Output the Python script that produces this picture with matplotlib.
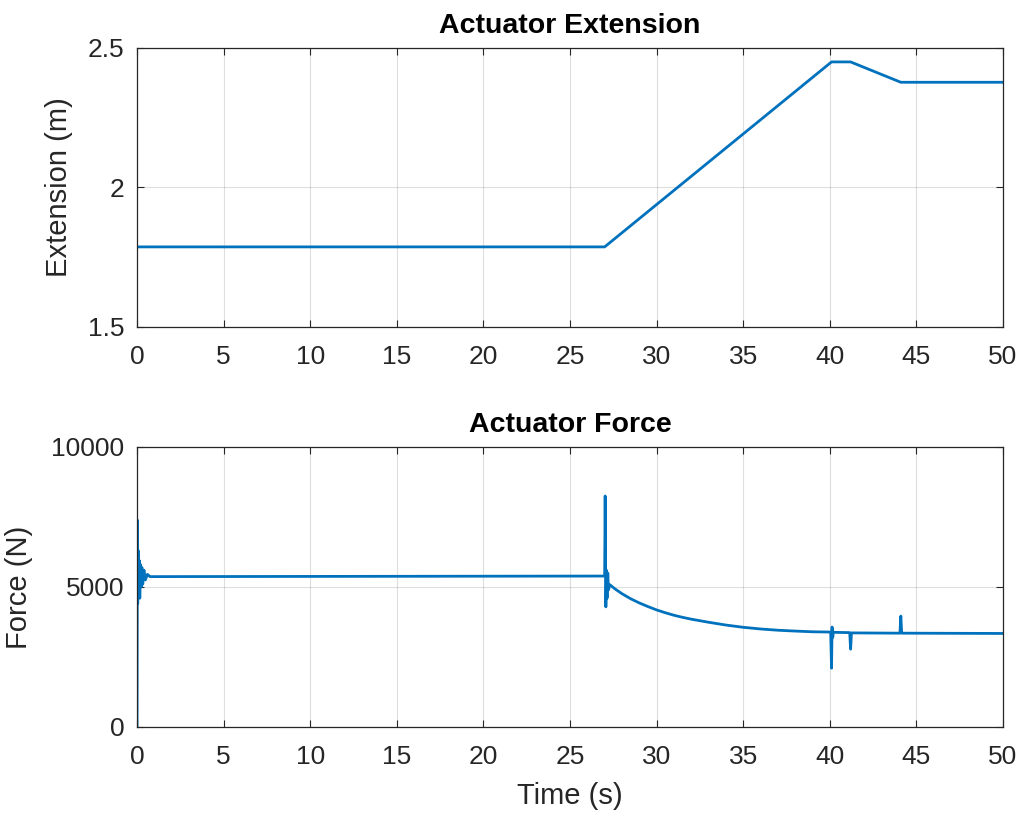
import matplotlib
matplotlib.use("Agg")
import matplotlib.pyplot as plt

# extension trace (s, m)
ext_t = [0, 27.0, 40.1, 41.2, 44.1, 50]
ext_m = [1.787, 1.787, 2.45, 2.45, 2.377, 2.377]

# force trace (s, N)
force_t = [0, 0.02, 0.04, 0.07, 0.10, 0.13, 0.16, 0.20, 0.24, 0.28, 0.33, 0.40,
           0.48, 0.60, 0.75, 27.0, 27.03, 27.07, 27.10, 27.14, 27.18, 27.22,
           27.3, 27.6, 28.0, 28.5, 29.0, 29.5, 30, 30.5, 31, 31.5, 32, 33, 34,
           35, 36, 37, 38, 39, 40.05, 40.1, 40.13, 40.17, 40.2, 41.15, 41.2,
           41.25, 44.05, 44.1, 44.15, 50]
force_n = [0, 7390, 4400, 6300, 4700, 5950, 4600, 5800, 5000, 5700, 5100, 5600,
           5250, 5450, 5370, 5390, 8250, 4290, 5600, 4600, 5500, 4900,
           5080, 4930, 4760, 4580, 4430, 4300, 4180, 4080, 3990, 3915, 3850,
           3740, 3640, 3560, 3500, 3455, 3425, 3400, 3390, 2100, 3570, 3200,
           3380, 3370, 2780, 3360, 3350, 3960, 3350, 3340]

blue = "#0072BD"
dark = "#262626"

plt.rcParams["font.family"] = ["Liberation Sans", "DejaVu Sans"]

fig = plt.figure(figsize=(10.24, 8.17), dpi=100)
ax1 = fig.add_axes([0.1338, 0.5998, 0.8457, 0.3415])
ax2 = fig.add_axes([0.1338, 0.1102, 0.8457, 0.3427])

ax1.plot(ext_t, ext_m, color=blue, lw=2.0)
ax1.set_ylim(1.5, 2.5)
ax1.set_yticks([1.5, 2, 2.5])
ax1.set_yticklabels(["1.5", "2", "2.5"])
ax1.set_ylabel("Extension (m)", fontsize=21)
ax1.yaxis.set_label_coords(-0.074, 0.5)
ax1.set_title("Actuator Extension", fontsize=20.5, fontweight="bold",
              color="black", pad=11)

ax2.plot(force_t, force_n, color=blue, lw=2.0)
ax2.set_ylim(0, 10000)
ax2.set_yticks([0, 5000, 10000])
ax2.set_ylabel("Force (N)", fontsize=21)
ax2.yaxis.set_label_coords(-0.120, 0.5)
ax2.set_xlabel("Time (s)", fontsize=21)
ax2.xaxis.set_label_coords(0.5, -0.195)
ax2.set_title("Actuator Force", fontsize=20.5, fontweight="bold",
              color="black", pad=11)

for ax in (ax1, ax2):
    ax.set_xlim(0, 50)
    ax.set_xticks(range(0, 51, 5))
    ax.grid(True, color="#262626", alpha=0.15, lw=0.8)
    ax.tick_params(direction="in", top=True, right=True, colors=dark,
                   labelcolor=dark, length=5, labelsize=19)
    ax.tick_params(axis="x", pad=13)
    ax.tick_params(axis="y", pad=9)
    for s in ax.spines.values():
        s.set_color(dark)
        s.set_linewidth(0.9)
    ax.yaxis.label.set_color(dark)
    ax.xaxis.label.set_color(dark)

fig.savefig("out.png", dpi=100)
